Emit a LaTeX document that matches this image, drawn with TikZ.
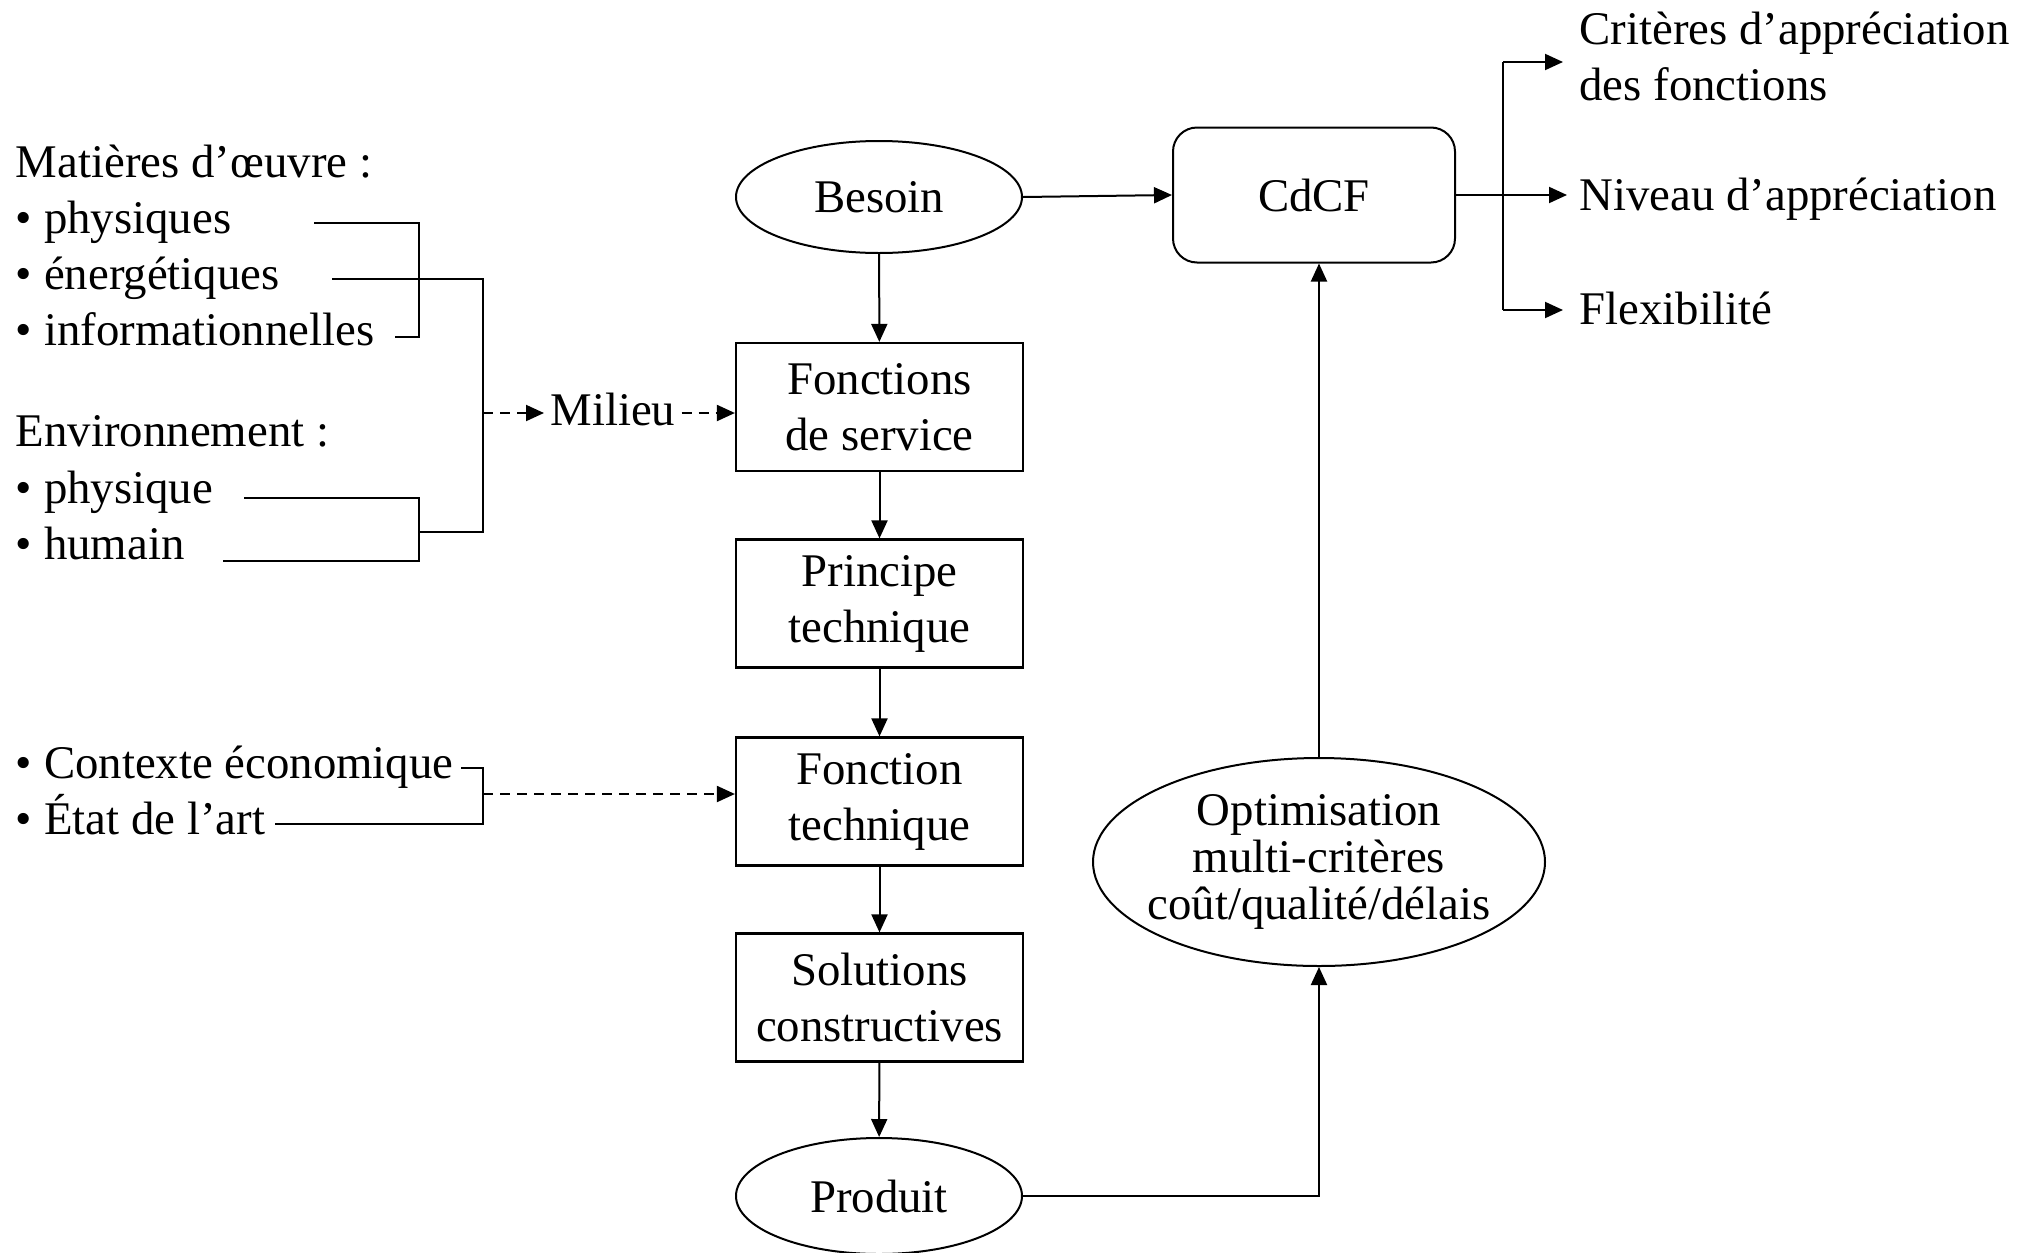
\documentclass[tikz,border=0pt]{standalone}
\usepackage{fontspec}
\setmainfont{Liberation Serif}
\usetikzlibrary{shapes.geometric,arrows.meta}
\begin{document}
\begin{tikzpicture}[x=0.5pt,y=-0.5pt,
  every node/.style={font=\fontsize{23.4}{28}\selectfont},
  line/.style={line width=1pt},
  arr/.style={line width=1pt,-{Triangle[length=9pt,width=8pt]}},
  darr/.style={arr,dash pattern=on 5pt off 3.5pt},
  stepbox/.style={draw,line width=1.1pt,minimum width=143.5pt,minimum height=64pt,align=center,inner sep=2pt},
  oval/.style={draw,ellipse,line width=1pt,inner sep=0pt},
  lbl/.style={anchor=base west,inner sep=0pt},
]
\useasboundingbox (0,0) rectangle (2035,1253);

% main chain
\node[oval,minimum width=143pt,minimum height=56pt] (besoin) at (879,197) {Besoin};
\node[stepbox] (fs) at (879.5,407) {Fonctions\\de service};
\node[stepbox] (pt) at (879.5,603.5) {Principe\\technique};
\node[stepbox] (ft) at (879.5,801.5) {Fonction\\technique};
\node[stepbox] (sc) at (879.5,997.5) {Solutions\\constructives};
\node[oval,minimum width=143pt,minimum height=58pt] (produit) at (879,1196) {Produit};

% optimisation loop and specification
\node[oval,minimum width=226pt,minimum height=104pt] (opt) at (1319,862) {};
\node[align=center,inner sep=0pt,font=\fontsize{23.4}{23.7}\selectfont] (opttxt) at (opt.center) {Optimisation\\multi-critères\\coût/qualité/délais};
\node[draw,rounded corners=12pt,line width=1pt,minimum width=141pt,minimum height=67.5pt] (cdcf) at (1314,195) {CdCF};

\draw[arr] (besoin) -- (fs);
\draw[arr] (fs) -- (pt);
\draw[arr] (pt) -- (ft);
\draw[arr] (ft) -- (sc);
\draw[arr] (sc) -- (produit);
\draw[arr] (produit.east) -| (opt.south);
\draw[arr] (opt.north) -- (opt.north |- cdcf.south);
\draw[arr] (besoin.east) -- (cdcf.west);

% outputs of the specification
\node[anchor=west,align=left,inner sep=0pt] (crit) at (1579,56) {Critères d’appréciation\\des fonctions};
\node[lbl] (niveau) at (1579,210) {Niveau d’appréciation};
\node[lbl] (flex) at (1579,324) {Flexibilité};
\coordinate (brtop) at (1503,62);
\coordinate (brbot) at (1503,310);
\draw[line] (brtop) -- (brbot);
\draw[arr,shorten >=6pt] (cdcf.east) -- (cdcf.east -| niveau.west);
\draw[arr,shorten >=8pt] (brtop) -- (brtop -| crit.west);
\draw[arr,shorten >=8pt] (brbot) -- (brbot -| flex.west);

% inputs: environment of use
\node[lbl] (mat) at (15.6,177) {Matières d’œuvre :};
\node[lbl] (mphy) at (15.6,233) {• physiques};
\node[lbl] (mene) at (15.6,289) {• énergétiques};
\node[lbl] (minf) at (15.6,345) {• informationnelles};
\node[lbl] (env) at (15.6,446) {Environnement :};
\node[lbl] (ephy) at (15.6,503) {• physique};
\node[lbl] (ehum) at (15.6,559) {• humain};

\coordinate (la) at (314,223);
\coordinate (lb) at (332,279);
\coordinate (lc) at (395,337);
\coordinate (ld) at (244,498);
\coordinate (le) at (223,561);
\coordinate (ja) at (419,532);
\coordinate (jm) at (483,413);

\draw[line] (la) -- (419,223) -- (419,337) -- (lc);
\draw[line] (lb) -- (483,279) -- (483,532) -- (ja);
\draw[line] (ld) -- (419,498) -- (419,561) -- (le);

\node[lbl,inner xsep=3pt] (milieu) at (544,425) {Milieu};
\draw[darr] (jm) -- (jm -| milieu.west);
\draw[darr] (jm -| milieu.east) -- (jm -| fs.west);

% inputs: context
\node[lbl] (ctx) at (15.6,778) {• Contexte économique};
\node[lbl] (art) at (15.6,834) {• État de l’art};
\coordinate (lf) at (461,768);
\coordinate (lg) at (275,824);
\coordinate (jc) at (483,794);
\draw[line] (lf) -- (483,768) -- (483,824) -- (lg);
\draw[darr] (jc) -- (jc -| ft.west);
\end{tikzpicture}
\end{document}
